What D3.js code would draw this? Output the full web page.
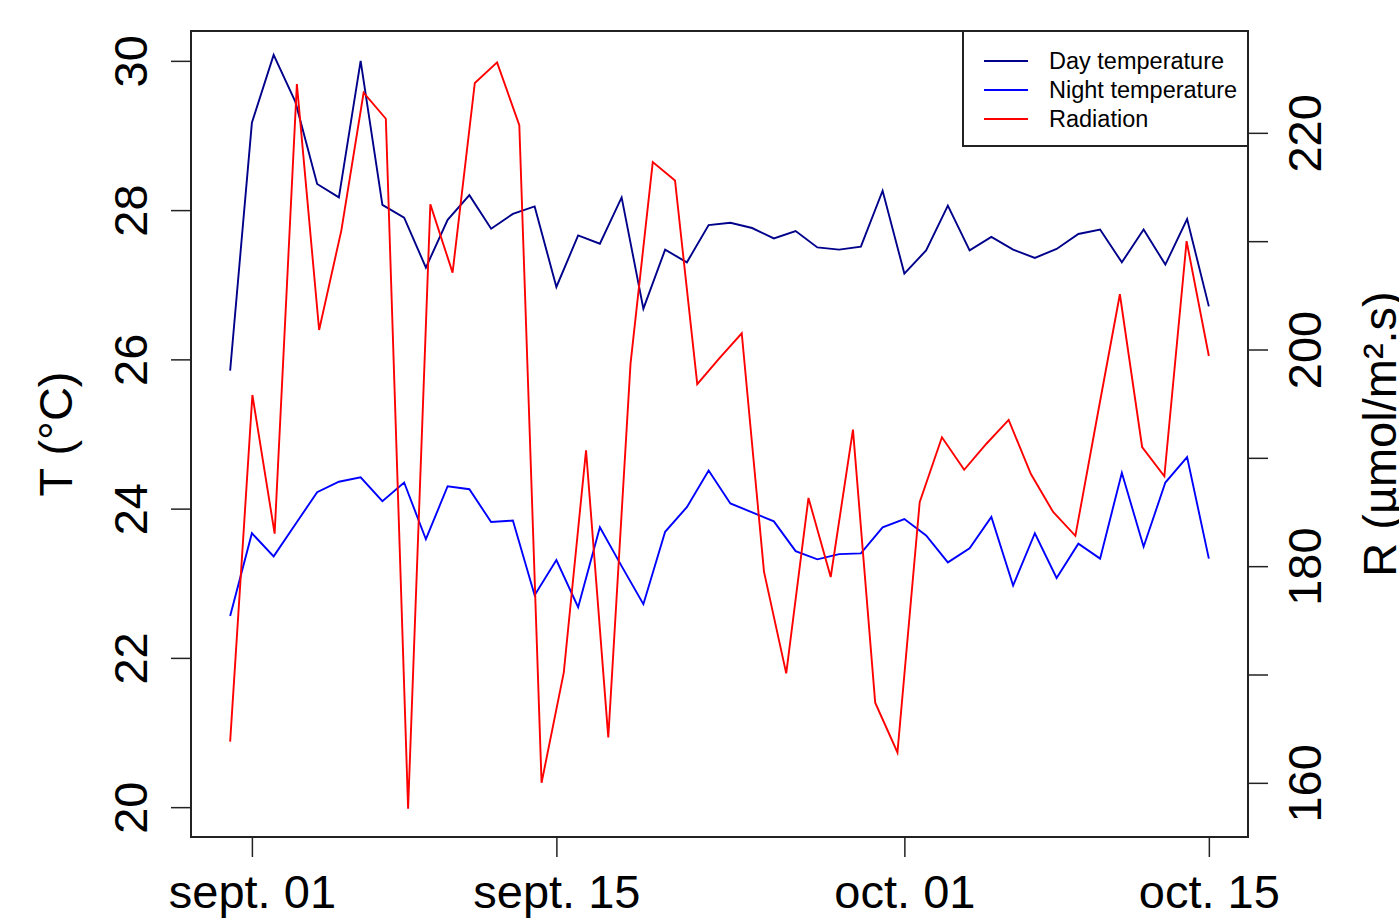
<!DOCTYPE html>
<html>
<head>
<meta charset="utf-8">
<script src="https://cdn.jsdelivr.net/npm/d3@7"></script>
<style>
  html, body { margin: 0; padding: 0; background: #fff; }
  svg { display: block; font-family: "Liberation Sans", Arial, sans-serif; }
</style>
</head>
<body>
<svg id="chart" width="1399" height="918"></svg>
<script>
// Daily temperatures, 31 Aug – 15 Oct (°C)
const tempStart = "2016-08-31";
const dayTemp = [25.85, 29.17, 30.08, 29.45, 28.35, 28.17, 30.0, 28.07, 27.9, 27.23,
  27.87, 28.2, 27.75, 27.95, 28.05, 26.97, 27.66, 27.55, 28.17, 26.68,
  27.47, 27.3, 27.8, 27.83, 27.76, 27.62, 27.72, 27.5, 27.47, 27.51,
  28.26, 27.15, 27.46, 28.06, 27.46, 27.64, 27.47, 27.36, 27.48, 27.68,
  27.74, 27.3, 27.74, 27.27, 27.88, 26.71];
const nightTemp = [22.56, 23.67, 23.36, 23.79, 24.22, 24.36, 24.42, 24.1, 24.35, 23.59,
  24.3, 24.26, 23.82, 23.84, 22.84, 23.31, 22.68, 23.75, 23.23, 22.72,
  23.69, 24.02, 24.51, 24.07, 23.95, 23.83, 23.43, 23.32, 23.39, 23.4,
  23.75, 23.86, 23.64, 23.28, 23.47, 23.89, 22.97, 23.67, 23.07, 23.53,
  23.33, 24.48, 23.49, 24.35, 24.69, 23.33];

// Daily radiation (µmol/m².s), 45 days, drawn on its own x range
const radStart = "2016-08-31";
const radiation = [163.8, 195.8, 183.0, 224.5, 201.8, 211.0, 223.7, 221.3, 157.6, 213.4,
  207.1, 224.6, 226.5, 220.7, 160.0, 170.2, 190.7, 164.2, 198.7, 217.3,
  215.6, 196.8, 199.2, 201.5, 179.5, 170.1, 186.3, 179.0, 192.6, 167.4,
  162.8, 185.9, 191.9, 188.9, 191.3, 193.5, 188.5, 185.0, 182.8, 194.0,
  205.1, 191.0, 188.3, 210.0, 199.4];

// Axis ticks
const tempTicks = [20, 22, 24, 26, 28, 30];
const radTicks = [160, 170, 180, 190, 200, 210, 220];
const radTickLabels = ["160", "", "180", "", "200", "", "220"];
const dateTicks = ["2016-09-01", "2016-09-15", "2016-10-01", "2016-10-15"];
const dateTickLabels = ["sept. 01", "sept. 15", "oct. 01", "oct. 15"];

const seriesNames = ["Day temperature", "Night temperature", "Radiation"];
const seriesColors = ["#00008B", "#0000FF", "#FF0000"];

const svg = d3.select("#chart");
const W = 1399, H = 918;
const plot = { left: 191, right: 1248, top: 31, bottom: 837 };

svg.append("rect").attr("width", W).attr("height", H).attr("fill", "#fff");

const parse = d3.utcParse("%Y-%m-%d");

const tempDates = dayTemp.map((_, i) => d3.utcDay.offset(parse(tempStart), i));
const radDates = radiation.map((_, i) => d3.utcDay.offset(parse(radStart), i));

// R-style 4% padding of a numeric extent
function pad(ext) {
  const d = (ext[1] - ext[0]) * 0.04;
  return [ext[0] - d, ext[1] + d];
}

const tExt = pad([+tempDates[0], +tempDates[tempDates.length - 1]]);
const x = d3.scaleUtc().domain(tExt.map(v => new Date(v))).range([plot.left, plot.right]);

const rExt = pad([+radDates[0], +radDates[radDates.length - 1]]);
const xRad = d3.scaleUtc().domain(rExt.map(v => new Date(v))).range([plot.left, plot.right]);

const yT = d3.scaleLinear().domain(pad([20, 30])).range([plot.bottom, plot.top]);
const yR = d3.scaleLinear().domain([155.0, 229.4]).range([plot.bottom, plot.top]);

const tickFont = 47;

// Left axis
const gL = svg.append("g").attr("transform", `translate(${plot.left},0)`)
  .call(d3.axisLeft(yT).tickValues(tempTicks).tickSize(20).tickSizeOuter(0).tickFormat(d3.format("d")));
gL.select(".domain").remove();
gL.selectAll(".tick line").attr("stroke", "#222").attr("stroke-width", 1.5);
gL.selectAll(".tick text")
  .attr("transform", "rotate(-90)")
  .attr("x", 0).attr("y", -44).attr("dy", 0)
  .attr("text-anchor", "middle")
  .attr("font-size", tickFont).attr("fill", "#000")
  .attr("font-family", "Liberation Sans, Arial, sans-serif");

// Right axis
const gR = svg.append("g").attr("transform", `translate(${plot.right},0)`)
  .call(d3.axisRight(yR).tickValues(radTicks).tickSize(20).tickSizeOuter(0)
    .tickFormat((d, i) => radTickLabels[i]));
gR.select(".domain").remove();
gR.selectAll(".tick line").attr("stroke", "#222").attr("stroke-width", 1.5);
gR.selectAll(".tick text")
  .attr("transform", "rotate(-90)")
  .attr("x", 0).attr("y", 73).attr("dy", 0)
  .attr("text-anchor", "middle")
  .attr("font-size", tickFont).attr("fill", "#000")
  .attr("font-family", "Liberation Sans, Arial, sans-serif");

// Bottom axis
const gB = svg.append("g").attr("transform", `translate(0,${plot.bottom})`)
  .call(d3.axisBottom(x).tickValues(dateTicks.map(parse)).tickSize(20).tickSizeOuter(0)
    .tickFormat((d, i) => dateTickLabels[i]));
gB.select(".domain").remove();
gB.selectAll(".tick line").attr("stroke", "#222").attr("stroke-width", 1.5);
gB.selectAll(".tick text")
  .attr("y", 71).attr("dy", 0)
  .attr("text-anchor", "middle")
  .attr("font-size", tickFont).attr("fill", "#000")
  .attr("font-family", "Liberation Sans, Arial, sans-serif");

// Axis titles
svg.append("text")
  .attr("transform", `translate(72,${(plot.top + plot.bottom) / 2}) rotate(-90)`)
  .attr("text-anchor", "middle").attr("font-size", 47).attr("fill", "#000")
  .text("T (°C)");
svg.append("text")
  .attr("transform", `translate(1396,${(plot.top + plot.bottom) / 2}) rotate(-90)`)
  .attr("text-anchor", "middle").attr("font-size", 47).attr("fill", "#000")
  .text("R (µmol/m².s)");

// Series lines
const lineT = d3.line().x((d, i) => x(tempDates[i])).y(d => yT(d));
const lineR = d3.line().x((d, i) => xRad(radDates[i])).y(d => yR(d));

[[dayTemp, lineT, 0], [nightTemp, lineT, 1], [radiation, lineR, 2]].forEach(([data, gen, k]) => {
  svg.append("path").datum(data).attr("d", gen)
    .attr("fill", "none").attr("stroke", seriesColors[k]).attr("stroke-width", 1.9)
    .attr("stroke-linejoin", "miter");
});

// Plot frame
svg.append("rect")
  .attr("x", plot.left).attr("y", plot.top)
  .attr("width", plot.right - plot.left).attr("height", plot.bottom - plot.top)
  .attr("fill", "none").attr("stroke", "#222").attr("stroke-width", 2);

// Legend
const leg = svg.append("g");
leg.append("rect")
  .attr("x", 963).attr("y", plot.top)
  .attr("width", plot.right - 963).attr("height", 115)
  .attr("fill", "#fff").attr("stroke", "#222").attr("stroke-width", 2);
seriesNames.forEach((name, i) => {
  const ly = 61 + i * 29;
  leg.append("line").attr("x1", 984).attr("x2", 1028).attr("y1", ly).attr("y2", ly)
    .attr("stroke", seriesColors[i]).attr("stroke-width", 1.9);
  leg.append("text").attr("x", 1049).attr("y", ly).attr("dy", "0.36em")
    .attr("font-size", 23.5).attr("fill", "#000").text(name);
});
</script>
</body>
</html>
